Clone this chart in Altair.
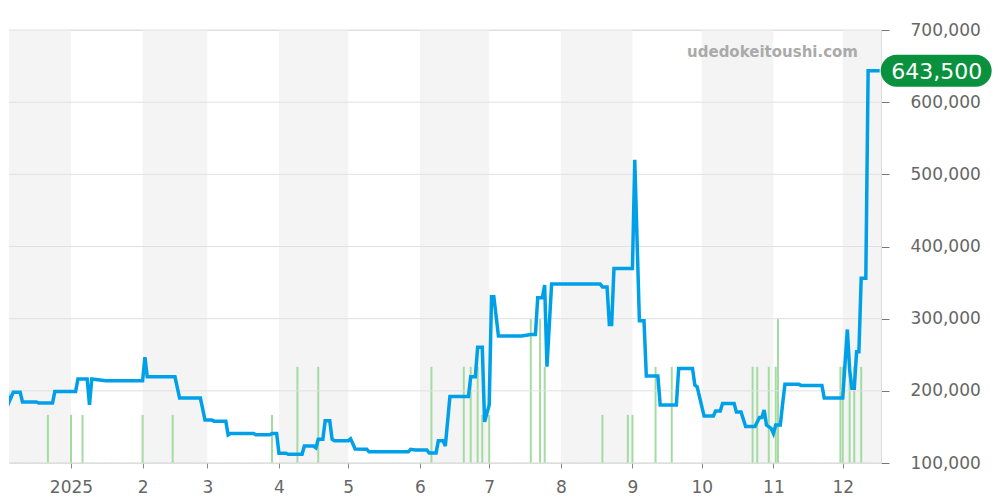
import altair as alt
import pandas as pd

# ---- price series (date, yen) ----
price_dates = [
    "2024-12-02", "2024-12-03", "2024-12-04", "2024-12-05", "2024-12-07", "2024-12-10",
    "2024-12-11", "2024-12-17", "2024-12-18", "2024-12-24", "2024-12-25",
    "2025-01-03", "2025-01-04", "2025-01-08", "2025-01-09", "2025-01-10", "2025-01-16",
    "2025-02-01", "2025-02-02", "2025-02-03", "2025-02-15", "2025-02-17", "2025-02-26",
    "2025-02-28", "2025-03-03", "2025-03-04", "2025-03-09", "2025-03-10", "2025-03-11",
    "2025-03-21", "2025-03-22", "2025-03-28", "2025-03-29", "2025-03-31",
    "2025-04-01", "2025-04-04", "2025-04-05", "2025-04-11", "2025-04-12", "2025-04-16",
    "2025-04-17", "2025-04-18", "2025-04-20", "2025-04-21", "2025-04-23", "2025-04-24",
    "2025-04-25", "2025-05-01", "2025-05-02", "2025-05-04", "2025-05-09", "2025-05-10",
    "2025-05-27", "2025-05-28", "2025-05-30", "2025-06-04", "2025-06-05", "2025-06-08",
    "2025-06-09", "2025-06-11", "2025-06-12", "2025-06-14", "2025-06-22", "2025-06-23",
    "2025-06-25", "2025-06-26", "2025-06-28", "2025-06-29", "2025-07-01", "2025-07-02",
    "2025-07-03", "2025-07-05", "2025-07-15", "2025-07-19", "2025-07-21", "2025-07-22",
    "2025-07-24", "2025-07-25", "2025-07-26", "2025-07-28", "2025-08-18", "2025-08-19",
    "2025-08-21", "2025-08-22", "2025-08-23", "2025-08-24", "2025-09-01", "2025-09-02",
    "2025-09-04", "2025-09-06", "2025-09-07", "2025-09-12", "2025-09-13", "2025-09-20",
    "2025-09-21", "2025-09-27", "2025-09-28", "2025-09-29", "2025-10-02", "2025-10-06",
    "2025-10-07", "2025-10-09", "2025-10-10", "2025-10-15", "2025-10-16", "2025-10-18",
    "2025-10-20", "2025-10-24", "2025-10-26", "2025-10-27", "2025-10-28", "2025-10-29",
    "2025-10-31", "2025-11-01", "2025-11-02", "2025-11-04", "2025-11-05", "2025-11-06",
    "2025-11-12", "2025-11-13", "2025-11-22", "2025-11-23", "2025-12-01", "2025-12-03",
    "2025-12-04", "2025-12-05", "2025-12-06", "2025-12-07", "2025-12-08", "2025-12-09",
    "2025-12-11", "2025-12-12", "2025-12-17",
]
price_values = [
    188000, 212000, 212000, 183000, 198000, 198000,
    184500, 184500, 183000, 183000, 199000,
    199000, 216500, 216500, 180500, 216500, 214000,
    214000, 246500, 219500, 219500, 190000, 190000,
    159500, 159500, 158000, 158000, 139000, 141000,
    141000, 139000, 139000, 141000, 141000,
    113500, 113500, 112000, 112000, 123500, 123500,
    121000, 133000, 133000, 158500, 158500, 133000,
    131000, 131000, 133500, 119500, 119000, 115500,
    115500, 119000, 118000, 118000, 114000, 114000,
    131000, 131000, 123500, 192000, 192000, 219500,
    219500, 260500, 260500, 157000, 180500, 330500,
    330500, 276000, 276000, 278000, 278000, 329000,
    329000, 346500, 233500, 348000, 348000, 344000,
    344000, 292000, 292000, 369500, 369500, 520000,
    297000, 297000, 220500, 220500, 180500, 180500,
    231000, 231000, 208000, 205500, 165000, 165000,
    172000, 172000, 182500, 182500, 170500, 170500,
    150500, 150500, 163000, 163000, 173500, 152500,
    148000, 141000, 152500, 152500, 182500, 209000,
    209000, 207500, 207500, 190000, 190000, 285000,
    229000, 203500, 203500, 254000, 254000, 356000,
    356000, 643500, 643500,
]

# ---- trade volume (date, count) ----
volume_dates = [
    "2024-12-02", "2024-12-04", "2024-12-22", "2025-01-01", "2025-01-06", "2025-02-01",
    "2025-02-14", "2025-03-29", "2025-04-09", "2025-04-18", "2025-06-06", "2025-06-20",
    "2025-06-23", "2025-06-26", "2025-06-28", "2025-07-01", "2025-07-19", "2025-07-23",
    "2025-07-25", "2025-08-19", "2025-08-30", "2025-09-01", "2025-09-11", "2025-09-18",
    "2025-10-23", "2025-10-25", "2025-10-30", "2025-11-02", "2025-11-03", "2025-11-30",
    "2025-12-01", "2025-12-04", "2025-12-06", "2025-12-09",
]
volume_values = [
    1, 1, 1, 1, 1, 1,
    1, 1, 2, 2, 2, 2,
    2, 2, 1, 1, 3, 3,
    2, 1, 1, 1, 2, 2,
    2, 2, 2, 2, 3, 2,
    2, 2, 2, 2,
]
baseline_range = ["2024-12-01", "2025-12-14"]

# ---- shaded months ----
band_starts = ["2024-12-01", "2025-02-01", "2025-04-01", "2025-06-01",
               "2025-08-01", "2025-10-01", "2025-12-01"]
band_ends = ["2025-01-01", "2025-03-01", "2025-05-01", "2025-07-01",
             "2025-09-01", "2025-11-01", "2026-01-01"]

y_ticks = [100000, 200000, 300000, 400000, 500000, 600000, 700000]
month_ticks = [alt.DateTime(year=2025, month=m, date=1, utc=True) for m in range(1, 13)]
watermark = ["udedokeitoushi.com"]

FONT = "DejaVu Sans"

price_df = pd.DataFrame({"date": price_dates, "price": price_values})
last_df = price_df.tail(1)
vol_df = pd.DataFrame({"date": volume_dates, "vol": volume_values})
base_df = pd.DataFrame({"start": [baseline_range[0]], "end": [baseline_range[1]]})
band_df = pd.DataFrame({"start": band_starts, "end": band_ends})
grid_df = pd.DataFrame({"g": y_ticks})
wm_df = pd.DataFrame({"t": watermark})

x_scale = alt.Scale(
    type="utc",
    domain=[alt.DateTime(year=2024, month=12, date=5, hours=4, utc=True),
            alt.DateTime(year=2025, month=12, date=17, hours=13, minutes=40, utc=True)],
)
x_axis = alt.Axis(
    values=month_ticks, title=None, grid=False, domain=False,
    tickSize=5, tickColor="#888888", labelFontSize=17, labelColor="#666666",
    labelFont=FONT, labelPadding=11,
    labelExpr="utcmonth(datum.value) == 0 ? utcFormat(datum.value, '%Y') : '' + (utcmonth(datum.value) + 1)",
)
y_scale = alt.Scale(domain=[100000, 700000], nice=False, zero=False)
y_axis = alt.Axis(
    orient="right", values=y_ticks, title=None, grid=False,
    labelExpr="format(datum.value, ',')",
    domain=True, domainColor="#dddddd", tickColor="#777777", tickSize=8,
    labelFontSize=17, labelColor="#666666", labelFont=FONT, labelPadding=21,
)

bands = alt.Chart(band_df).mark_rect(color="#f4f4f4", clip=True).encode(
    x=alt.X("start:T", scale=x_scale, axis=x_axis),
    x2="end:T",
)

vol_y = alt.Y("vol:Q", scale=alt.Scale(domain=[0, 9]), axis=None)
vol_bars = alt.Chart(vol_df).mark_rule(color="#a3dba3", strokeWidth=2, clip=True).encode(
    x=alt.X("date:T", scale=x_scale, axis=x_axis),
    y=vol_y,
    y2=alt.datum(0),
)
baseline = alt.Chart(base_df).mark_rule(
    color="#a3dba3", strokeWidth=1.5, strokeDash=[1, 2], clip=True
).encode(
    x=alt.X("start:T", scale=x_scale, axis=x_axis),
    x2="end:T",
    y=alt.datum(0, scale=alt.Scale(domain=[0, 9])),
)
vol_layer = alt.layer(vol_bars, baseline)

grid = alt.Chart(grid_df).mark_rule(color="#e0e0e0", strokeWidth=1).encode(
    y=alt.Y("g:Q", scale=y_scale, axis=y_axis),
)
line = alt.Chart(price_df).mark_line(color="#00a0e9", strokeWidth=3.5, clip=True).encode(
    x=alt.X("date:T", scale=x_scale, axis=x_axis),
    y=alt.Y("price:Q", scale=y_scale, axis=y_axis),
)
label_box = alt.Chart(last_df).mark_rect(
    color="#0a913d", cornerRadius=16, xOffset=1, x2Offset=112, yOffset=-16, y2Offset=16
).encode(
    x=alt.X("date:T", scale=x_scale, axis=x_axis),
    x2="date:T",
    y=alt.Y("price:Q", scale=y_scale, axis=y_axis),
    y2="price:Q",
)
label_text = alt.Chart(last_df).mark_text(
    color="white", fontSize=22, font=FONT, align="center", baseline="middle", xOffset=57, dy=1
).encode(
    x=alt.X("date:T", scale=x_scale, axis=x_axis),
    y=alt.Y("price:Q", scale=y_scale, axis=y_axis),
    text=alt.Text("price:Q", format=","),
)
wm = alt.Chart(wm_df).mark_text(
    color="#aaaaaa", fontSize=15, fontWeight="bold", font=FONT, align="right", baseline="middle"
).encode(
    x=alt.value(849), y=alt.value(22), text="t:N",
)
price_layer = alt.layer(grid, line, label_box, label_text, wm)

chart = alt.layer(bands, vol_layer, price_layer).resolve_scale(
    y="independent"
).properties(
    width=872, height=433,
    padding={"left": 0, "top": 13, "right": 0, "bottom": 0},
).configure_view(stroke=None).configure(font=FONT)

chart.save("out.html", embed_options={"renderer": "svg", "actions": False})
